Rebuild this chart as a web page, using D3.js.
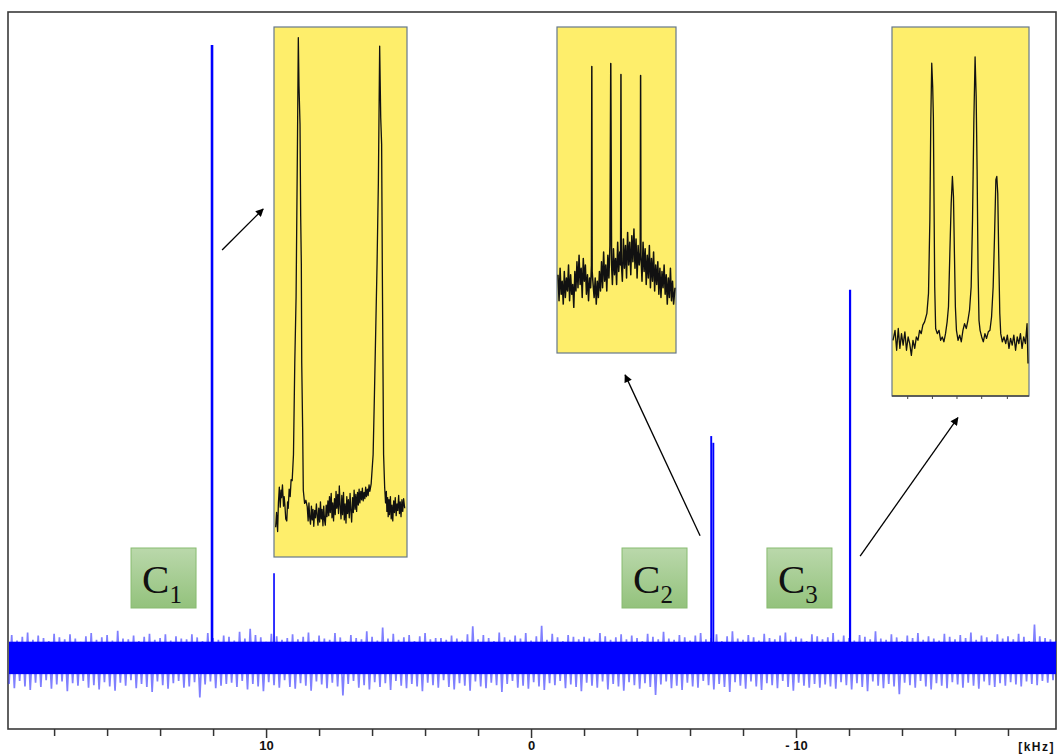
<!DOCTYPE html>
<html>
<head>
<meta charset="utf-8">
<script src="https://cdn.jsdelivr.net/npm/d3@7"></script>
<style>
  body { margin: 0; background: #fff; }
  svg { display: block; }
</style>
</head>
<body>
<svg id="chart"></svg>
<script>
// ---- data ----
// main spectrum: peaks [kHz, intensity]
const peakKHz    = [12.04, 9.70, -6.80, -6.88, -12.04];
const peakHeight = [100,   13.7,  36.1,  35.0,  60.0];
const peakWidth  = [2.6,   1.6,   1.9,   1.9,   2.2];

// noise band: spike tops / bottoms sampled every 0.2 kHz from 19.8 kHz
const noiseStart = 19.8, noiseStep = -0.2;
const noiseCore = [2.5, -2.8];
const noiseTop = [
  2.9,3.6,2.7,3.3,4.0,2.8,3.5,3.1,2.6,3.8,3.2,2.9,3.7,3.0,2.5,3.4,3.9,2.8,3.2,3.6,
  2.7,4.3,3.0,2.9,3.5,2.6,3.3,3.8,2.8,3.1,3.7,2.7,3.4,3.0,2.9,3.7,3.2,2.6,3.9,3.1,
  2.8,3.5,3.3,2.7,4.1,3.0,4.6,3.6,3.2,2.5,3.8,3.4,2.8,3.1,3.7,2.9,3.3,4.0,2.7,3.5,
  3.0,2.8,3.9,3.2,2.6,3.6,3.1,2.9,4.2,3.3,2.7,4.8,3.0,3.8,2.8,3.2,3.6,2.6,3.4,3.9,
  2.9,3.1,3.1,2.8,3.5,3.0,2.7,3.7,5.0,2.9,3.6,3.1,2.6,4.0,3.2,2.8,3.5,3.0,3.9,2.7,
  3.4,5.1,2.8,3.8,3.2,2.6,3.6,3.3,2.9,3.3,3.0,2.7,3.9,3.4,2.8,3.2,3.7,2.9,3.5,3.1,
  2.6,3.8,3.3,2.9,4.1,3.0,2.8,3.6,3.2,2.7,3.5,3.9,2.9,3.1,3.7,2.6,3.4,4.2,3.0,2.8,
  3.6,3.2,2.7,3.8,3.1,2.9,3.5,4.0,2.8,3.3,3.0,2.6,3.7,3.4,2.9,3.2,3.9,2.8,3.5,3.1,
  2.7,3.6,3.3,2.9,4.2,3.0,2.8,3.7,3.2,2.6,3.5,3.1,3.9,2.8,3.4,3.0,2.7,3.8,3.3,2.9,
  3.6,3.1,4.0,2.8,3.5,3.2,2.7,3.7,3.0,3.4,2.9,3.8,3.3,2.6,5.3,3.4,3.1,2.9,2.6];
const noiseBottom = [
  -4.4,-5.1,-3.9,-4.8,-5.4,-4.2,-4.9,-3.8,-5.2,-4.5,-4.0,-5.6,-4.3,-4.7,-3.9,-5.0,-4.6,-5.3,-4.1,-4.8,
  -5.5,-4.2,-4.7,-3.8,-5.1,-4.4,-4.9,-5.7,-4.0,-4.6,-5.2,-4.3,-3.9,-5.0,-4.8,-4.1,-6.6,-4.5,-4.0,-5.1,
  -4.7,-4.4,-4.2,-4.9,-3.9,-5.3,-4.4,-4.8,-5.6,-4.1,-4.6,-5.0,-3.8,-4.9,-5.2,-4.3,-4.7,-5.5,-4.0,-4.5,
  -5.1,-4.2,-4.8,-6.3,-4.4,-3.9,-5.0,-4.6,-5.3,-4.1,-4.9,-4.3,-5.4,-3.9,-4.7,-5.1,-4.4,-4.8,-5.6,-4.2,
  -4.6,-5.0,-3.8,-4.9,-5.3,-4.3,-4.7,-5.5,-4.0,-4.8,-5.1,-4.2,-4.6,-5.7,-4.4,-3.9,-5.0,-4.7,-5.2,-4.1,
  -4.8,-5.4,-4.3,-4.6,-3.9,-5.1,-4.5,-4.9,-5.6,-4.2,-4.7,-5.0,-4.0,-5.3,-4.4,-4.8,-5.5,-4.1,-4.6,-5.2,
  -4.3,-4.9,-6.2,-4.5,-4.0,-5.1,-4.7,-5.4,-4.2,-4.8,-5.0,-3.9,-4.6,-5.3,-4.4,-4.9,-5.7,-4.1,-4.7,-5.2,
  -4.0,-4.8,-5.4,-4.3,-4.6,-5.1,-3.9,-4.9,-5.5,-4.2,-4.7,-5.0,-4.4,-5.0,-4.5,-4.8,-5.2,-4.1,-4.6,-5.3,
  -4.3,-4.9,-5.6,-4.0,-4.7,-5.1,-4.4,-4.8,-6.1,-4.2,-4.6,-5.0,-3.9,-4.8,-5.3,-4.3,-4.7,-5.1,-4.1,-4.5,
  -5.0,-4.2,-4.7,-5.2,-4.0,-4.6,-4.9,-4.3,-4.7,-4.1,-4.5,-4.8,-4.0,-4.4,-4.6,-3.9,-4.2,-3.8,-3.7];

// x axis
const tickValues = [18,16,14,12,10,8,6,4,2,0,-2,-4,-6,-8,-10,-12,-14,-16,-18];
const tickLabels = {"10": "10", "0": "0", "-10": "- 10"};
const unitLabel = "[kHz]";

// carbon labels: name, subscript, centre (kHz)
const labelNames = ["C", "C", "C"];
const labelSubs  = ["1", "2", "3"];
const labelKHz   = [13.87, -4.66, -10.13];

// arrows: from [kHz, intensity] to [kHz, intensity]
const arrowFrom = [[11.66, 66.5], [-6.38, 19.8], [-12.42, 16.5]];
const arrowTo   = [[10.11, 73.2], [-3.55, 46.1], [-16.11, 39.1]];

// inset traces [u, v] in 0..100 box units
const inset1 = [[0.5,5.6],[1.2,8.4],[2.0,4.8],[2.6,10.2],[3.3,13.2],[4.0,9.4],[4.6,12.6],[5.0,11.2],
  [5.7,13.6],[6.5,9.6],[7.0,11.4],[7.5,10.0],[8.2,7.2],[9.0,6.8],[9.6,10.4],[10.1,9.2],[10.8,12.8],
  [11.6,11.4],[12.3,14.6],[13.1,14.4],[14.1,19.3],[15.1,36.7],[16.1,49.1],[17.1,76.7],[17.8,98.0],
  [18.3,89.0],[19.1,81.6],[19.6,64.4],[20.1,55.2],[20.4,36.7],[21.1,24.4],[21.6,12.6],[22.6,10.1],
  [23.6,10.7],[24.6,9.5],[25.3,6.8],[25.9,10.2],[26.5,7.4],[27.1,6.2],[27.8,9.6],[28.4,7.0],[29.0,9.0],
  [29.6,5.8],[30.3,8.8],[30.9,7.4],[31.6,10.0],[32.2,7.8],[32.8,6.0],[33.4,9.2],[34.1,6.6],[34.7,10.4],
  [35.3,7.2],[35.9,9.0],[36.6,5.9],[37.2,9.6],[37.8,7.0],[38.4,6.0],[39.1,9.8],[39.7,7.6],[40.4,10.6],
  [41.0,7.8],[41.6,11.4],[42.2,8.4],[42.9,12.0],[43.5,7.4],[44.1,10.2],[44.7,6.8],[45.4,11.0],[46.0,8.0],
  [46.6,12.4],[47.2,9.2],[47.9,11.8],[48.5,8.2],[49.1,13.4],[49.7,9.8],[50.4,7.2],[51.0,11.6],[51.6,8.0],
  [52.3,12.2],[52.9,7.0],[53.5,10.0],[54.2,6.4],[54.8,11.4],[55.4,8.2],[56.0,10.8],[56.7,7.4],[57.3,12.0],
  [57.9,8.8],[58.5,6.6],[59.2,11.2],[59.8,8.4],[60.4,12.6],[61.1,9.0],[61.7,11.8],[62.3,8.6],[63.0,12.2],
  [63.6,9.8],[64.2,12.8],[64.8,10.2],[65.5,12.4],[66.1,10.8],[66.7,13.0],[67.3,10.6],[68.0,12.2],
  [68.6,11.0],[69.2,13.2],[69.8,11.4],[70.5,12.8],[71.1,11.6],[71.8,13.6],[72.4,12.4],[73.4,13.8],
  [74.9,19.3],[75.9,30.6],[76.9,42.9],[77.9,55.2],[78.9,70.5],[79.9,96.4],[80.7,82.9],[81.4,77.9],
  [81.9,55.2],[82.4,36.7],[82.9,19.3],[83.7,13.2],[84.4,10.2],[85.0,12.4],[85.4,8.6],[86.0,11.2],
  [86.4,7.6],[87.0,10.8],[87.4,8.0],[88.1,11.4],[88.7,7.2],[89.3,9.8],[89.9,6.8],[90.6,10.6],[91.2,8.4],
  [91.8,11.2],[92.5,7.8],[93.1,10.0],[93.7,8.8],[94.4,11.6],[95.0,8.2],[95.6,10.4],[96.2,7.6],[96.9,10.8],
  [97.5,8.6],[98.2,11.0],[99.0,9.2]];

const inset2 = [[0,24],[0.9,16],[1.8,26],[2.7,18],[3.6,22],[4.5,15],[5.4,25],[6.3,17],[7.2,23],[8.1,19],
  [9,27],[9.9,16],[10.8,24],[11.7,18],[12.6,21],[13.5,14],[14.4,25],[15.3,19],[16.2,28],[17.1,20],
  [18,30],[18.9,21],[19.8,26],[20.7,17],[21.6,29],[22.5,22],[23.4,27],[24.3,18],[25.2,24],[26.1,16],
  [27,23],[27.9,20],[28.6,27],[28.9,87.9],[29.2,25],[30,21],[30.9,17],[31.8,23],[32.7,15],[33.6,22],
  [34.5,17],[35.4,25],[36.3,19],[37.2,28],[38.1,20],[39,31],[39.9,22],[40.8,27],[41.7,19],[42.6,30],
  [43.5,23],[44.4,33],[45.1,88.8],[45.8,27],[46.5,21],[47.4,32],[48.3,24],[49.2,29],[50.1,21],[51,34],
  [51.9,25],[52.8,31],[53.5,27],[53.8,85.4],[54.1,28],[55,22],[55.9,35],[56.8,26],[57.7,33],[58.6,23],
  [59.5,37],[60.4,27],[61.3,34],[62.2,24],[63.1,36],[64,28],[64.9,38],[65.8,26],[66.7,35],[67.6,23],
  [68.5,33],[69.4,27],[70.3,31],[70.6,85.1],[70.9,30],[71.8,22],[72.7,34],[73.6,25],[74.5,32],[75.4,21],
  [76.3,30],[77.2,23],[78.1,33],[79,20],[79.9,29],[80.8,22],[81.7,31],[82.6,19],[83.5,27],[84.4,21],
  [85.3,28],[86.2,18],[87.1,26],[88,17],[88.9,25],[89.8,20],[90.7,27],[91.6,18],[92.5,24],[93.4,15],
  [94.3,23],[95.2,17],[96.1,26],[97,16],[97.9,22],[98.8,15],[100,20]];

const inset3 = [[0,15.1],[1.5,17.8],[2.7,12.4],[3.9,18.3],[5.1,12.9],[6.3,16.9],[7.5,13.8],[8.8,17.4],
  [10.0,12.4],[11.2,16.0],[12.4,14.2],[13.6,11.0],[14.8,15.1],[16.1,12.9],[17.3,16.0],[18.5,15.1],
  [19.7,17.8],[20.9,16.9],[22.1,19.2],[23.4,20.1],[25.1,22.4],[26.3,27.8],[27.3,47.7],[28.0,74.8],
  [28.7,90.2],[29.4,83.9],[29.9,75.7],[30.4,52.2],[30.9,29.6],[31.6,18.3],[32.8,16.9],[34.1,17.8],
  [35.3,15.1],[36.5,16.0],[37.7,14.7],[38.9,16.9],[40.1,20.1],[41.1,24.2],[42.1,38.6],[43.1,52.2],
  [44.0,59.5],[44.8,54.0],[45.5,38.6],[46.2,24.2],[47.0,17.8],[48.2,15.1],[49.4,16.5],[50.6,14.7],
  [51.8,17.8],[53.0,19.6],[54.3,18.3],[55.5,20.5],[56.7,23.3],[57.9,29.6],[58.9,47.7],[59.9,74.8],
  [60.8,91.9],[61.6,81.2],[62.3,61.3],[63.0,34.1],[63.7,20.5],[64.5,17.8],[65.7,16.0],[66.9,14.7],
  [68.1,16.9],[69.3,15.6],[70.6,17.4],[71.8,17.8],[73.0,21.4],[74.2,29.6],[75.2,43.2],[76.2,58.6],
  [76.9,59.5],[77.6,54.9],[78.3,38.6],[79.1,22.4],[79.8,16.9],[81.0,14.7],[82.2,16.0],[83.5,14.2],
  [84.7,16.5],[85.9,12.9],[87.1,15.6],[88.3,13.8],[89.5,16.5],[90.8,12.4],[92.0,16.0],[93.2,14.2],
  [94.4,16.9],[95.6,12.9],[96.8,16.0],[98.1,14.2],[99.3,19.6],[100,8.8]];
const inset3Ticks = [10.9, 29.2, 47.4, 65.7, 84.7];

// ---- layout ----
const W = 1057, H = 755;
const plot = {left: 8, top: 12, right: 1056, bottom: 729};
const insetBoxes = [
  {x: 274, y: 27, w: 133, h: 530, data: inset1, sw: 1.3},
  {x: 557, y: 27, w: 119, h: 326, data: inset2, sw: 1.5},
  {x: 892, y: 27, w: 137, h: 369, data: inset3, sw: 1.3, ticks: inset3Ticks}
];
const blue = "#0000ff";

const svg = d3.select("#chart").attr("width", W).attr("height", H);

const x = d3.scaleLinear().domain([19.74, -19.85]).range([plot.left, 1057]);
const y = d3.scaleLinear().domain([-10, 100]).range([718.2, 45]);

const defs = svg.append("defs");
const grad = defs.append("linearGradient").attr("id", "green").attr("x1", 0).attr("y1", 0).attr("x2", 0).attr("y2", 1);
grad.append("stop").attr("offset", "0%").attr("stop-color", "#bad8ab");
grad.append("stop").attr("offset", "100%").attr("stop-color", "#93c27c");
defs.append("marker").attr("id", "head")
  .attr("viewBox", "0 0 10 10").attr("refX", 9).attr("refY", 5)
  .attr("markerWidth", 9).attr("markerHeight", 8).attr("markerUnits", "userSpaceOnUse")
  .attr("orient", "auto")
  .append("path").attr("d", "M0,0 L10,5 L0,10 z").attr("fill", "#000");

// frame
svg.append("rect")
  .attr("x", plot.left).attr("y", plot.top)
  .attr("width", plot.right - plot.left).attr("height", plot.bottom - plot.top)
  .attr("fill", "none").attr("stroke", "#3a3a3a").attr("stroke-width", 1.6);

// noise band: dense trace through the spike tops and bottoms, solid core on top
const g = svg.append("g");
const zig = [];
noiseTop.forEach((v, i) => {
  const k = noiseStart + noiseStep * i;
  zig.push([x(k), y(v)]);
  zig.push([x(k + noiseStep / 2), y(noiseBottom[i])]);
});
g.append("path")
  .attr("d", d3.line()(zig.filter(p => p[0] >= plot.left + 1 && p[0] <= plot.right)))
  .attr("fill", "none").attr("stroke", "#2a2aff").attr("stroke-opacity", 0.6)
  .attr("stroke-width", 1.7);
g.append("rect")
  .attr("x", plot.left + 1).attr("width", plot.right - plot.left - 1)
  .attr("y", y(noiseCore[0])).attr("height", y(noiseCore[1]) - y(noiseCore[0]))
  .attr("fill", blue);

// peaks
g.selectAll(".peak").data(peakKHz).join("line")
  .attr("class", "peak")
  .attr("x1", d => x(d)).attr("x2", d => x(d))
  .attr("y1", y(0)).attr("y2", (d, i) => y(peakHeight[i]))
  .attr("stroke", blue).attr("stroke-width", (d, i) => peakWidth[i]);

// x axis
const axis = d3.axisBottom(x).tickValues(tickValues).tickSize(7).tickSizeOuter(0)
  .tickFormat(d => tickLabels[String(d)] || "");
const ax = svg.append("g").attr("transform", `translate(0,${plot.bottom})`).call(axis);
ax.select(".domain").remove();
ax.selectAll(".tick line").attr("stroke", "#333").attr("stroke-width", 1.5)
  .attr("y2", d => tickLabels[String(d)] ? 9 : 7);
ax.selectAll(".tick text")
  .attr("y", 12).attr("fill", "#111")
  .style("font", "bold 13px 'Liberation Sans', Arial, sans-serif");
svg.append("text").attr("x", 1055).attr("y", 751).attr("text-anchor", "end")
  .attr("fill", "#111").style("font", "bold 12px 'Liberation Sans', Arial, sans-serif")
  .attr("letter-spacing", "1.5px").text(unitLabel);

// insets
insetBoxes.forEach(b => {
  const ig = svg.append("g");
  ig.append("rect").attr("x", b.x).attr("y", b.y).attr("width", b.w).attr("height", b.h)
    .attr("fill", "#feee6b").attr("stroke", "#66788a").attr("stroke-width", 1.2);
  const xs = d3.scaleLinear().domain([0, 100]).range([b.x + 1, b.x + b.w - 1]);
  const ys = d3.scaleLinear().domain([0, 100]).range([b.y + b.h, b.y]);
  ig.append("path")
    .attr("d", d3.line().x(d => xs(d[0])).y(d => ys(d[1]))(b.data))
    .attr("fill", "none").attr("stroke", "#111").attr("stroke-width", b.sw)
    .attr("stroke-linejoin", "round");
  if (b.ticks) {
    ig.append("line").attr("x1", b.x).attr("x2", b.x + b.w)
      .attr("y1", b.y + b.h).attr("y2", b.y + b.h)
      .attr("stroke", "#444").attr("stroke-width", 1.5);
    ig.selectAll(".itick").data(b.ticks).join("line")
      .attr("x1", d => xs(d)).attr("x2", d => xs(d))
      .attr("y1", b.y + b.h).attr("y2", b.y + b.h + 3)
      .attr("stroke", "#444").attr("stroke-width", 1);
  }
});

// arrows
svg.selectAll(".arrow").data(arrowFrom).join("line")
  .attr("class", "arrow")
  .attr("x1", d => x(d[0])).attr("y1", d => y(d[1]))
  .attr("x2", (d, i) => x(arrowTo[i][0])).attr("y2", (d, i) => y(arrowTo[i][1]))
  .attr("stroke", "#000").attr("stroke-width", 1.3)
  .attr("marker-end", "url(#head)");

// carbon labels
const lab = svg.selectAll(".clabel").data(labelKHz).join("g").attr("class", "clabel")
  .attr("transform", d => `translate(${x(d) - 32.5},548)`);
lab.append("rect").attr("width", 65).attr("height", 60)
  .attr("fill", "url(#green)").attr("stroke", "#88bb70").attr("stroke-width", 1);
const t = lab.append("text").attr("x", 11).attr("y", 45)
  .style("font-family", "'Liberation Serif', 'Times New Roman', serif").attr("fill", "#111");
t.append("tspan").style("font-size", "41px").text((d, i) => labelNames[i]);
t.append("tspan").style("font-size", "25px").attr("dy", 10).text((d, i) => labelSubs[i]);
</script>
</body>
</html>
